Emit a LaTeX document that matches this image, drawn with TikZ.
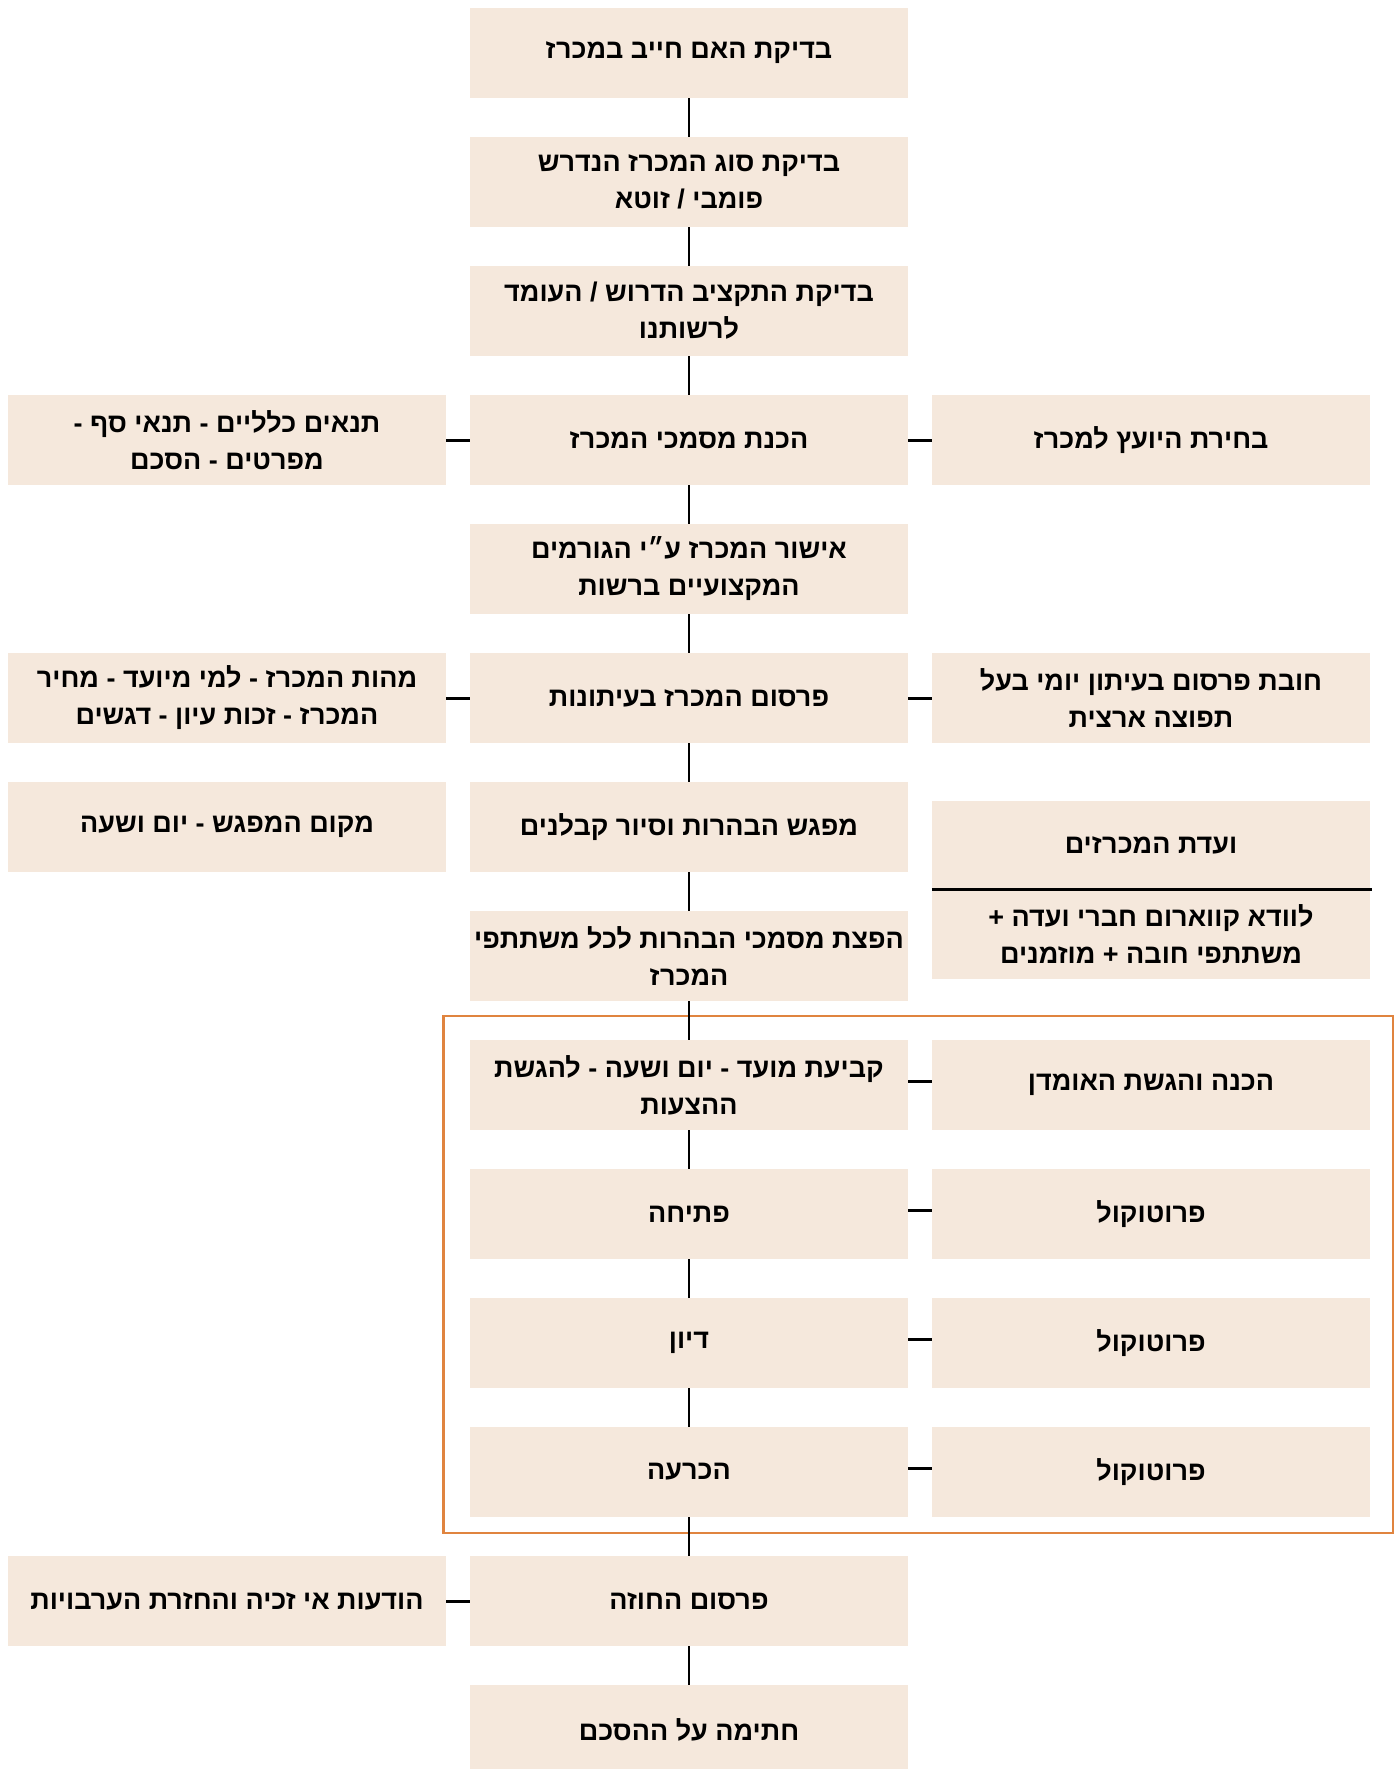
\documentclass[tikz,border=0pt]{standalone}
\usepackage{fontspec}
\newfontfamily\hebfont[Script=Hebrew]{Liberation Sans}
\TeXXeTstate=1
\newcommand{\hebline}[1]{\beginR #1\endR}
\definecolor{boxfill}{HTML}{F5E8DC}
\definecolor{frameorange}{HTML}{E0843F}

\begin{document}
\begin{tikzpicture}[x=1pt,y=-1pt,
  stepbox/.style={fill=boxfill, minimum width=438pt, minimum height=90pt, inner sep=0pt, align=center,
    font=\hebfont\bfseries\fontsize{27}{37}\selectfont},
  link/.style={draw, line width=2pt},
  tick/.style={draw, line width=3pt}]
\useasboundingbox (0,0) rectangle (1395,1769);

% main column
\node[stepbox] (c0) at (689,53) {\hebline{בדיקת האם חייב במכרז}};
\node[stepbox] (c1) at (689,182) {\hebline{בדיקת סוג המכרז הנדרש}\\\hebline{פומבי / זוטא}};
\node[stepbox] (c2) at (689,311) {\hebline{בדיקת התקציב הדרוש / העומד}\\\hebline{לרשותנו}};
\node[stepbox] (c3) at (689,440) {\hebline{הכנת מסמכי המכרז}};
\node[stepbox] (c4) at (689,569) {\hebline{אישור המכרז ע״י הגורמים}\\\hebline{המקצועיים ברשות}};
\node[stepbox] (c5) at (689,698) {\hebline{פרסום המכרז בעיתונות}};
\node[stepbox] (c6) at (689,827) {\hebline{מפגש הבהרות וסיור קבלנים}};
\node[stepbox] (c7) at (689,956) {\hebline{הפצת מסמכי הבהרות לכל משתתפי}\\\hebline{המכרז}};
\node[stepbox] (c8) at (689,1085) {\hebline{קביעת מועד - יום ושעה - להגשת}\\\hebline{ההצעות}};
\node[stepbox] (c9) at (689,1214) {\hebline{פתיחה}};
\node[stepbox] (c10) at (689,1343) {\hebline{דיון}};
\node[stepbox] (c11) at (689,1472) {\hebline{הכרעה}};
\node[stepbox] (c12) at (689,1601) {\hebline{פרסום החוזה}};
\node[stepbox] (c13) at (689,1730) {\hebline{חתימה על ההסכם}};

% left column
\node[stepbox] (l3) at (227,440) {\hebline{תנאים כלליים - תנאי סף -}\\\hebline{מפרטים - הסכם}};
\node[stepbox] (l5) at (227,698) {\hebline{מהות המכרז - למי מיועד - מחיר}\\\hebline{המכרז - זכות עיון - דגשים}};
\node[stepbox] (l6) at (227,827) {\hebline{מקום המפגש - יום ושעה}};
\node[stepbox] (l12) at (227,1601) {\hebline{הודעות אי זכיה והחזרת הערבויות}};

% right column
\node[stepbox] (r3) at (1151,440) {\hebline{בחירת היועץ למכרז}};
\node[stepbox] (r5) at (1151,698) {\hebline{חובת פרסום בעיתון יומי בעל}\\\hebline{תפוצה ארצית}};
\node[stepbox, minimum height=88pt] (r6a) at (1151,845) {\hebline{ועדת המכרזים}};
\node[stepbox] (r6b) at (1151,934) {\hebline{לוודא קווארום חברי ועדה +}\\\hebline{משתתפי חובה + מוזמנים}};
\node[stepbox] (r8) at (1151,1085) {\hebline{הכנה והגשת האומדן}};
\node[stepbox] (r9) at (1151,1214) {\hebline{פרוטוקול}};
\node[stepbox] (r10) at (1151,1343) {\hebline{פרוטוקול}};
\node[stepbox] (r11) at (1151,1472) {\hebline{פרוטוקול}};

\draw[line width=3pt] (r6a.south west) -- ([xshift=2pt]r6a.south east);

% committee frame
\draw[frameorange, line width=2.5pt] (443.5,1016) rectangle (1393,1533);

\path[link] (c0) -- (c1);
\path[link] (c1) -- (c2);
\path[link] (c2) -- (c3);
\path[link] (c3) -- (c4);
\path[link] (c4) -- (c5);
\path[link] (c5) -- (c6);
\path[link] (c6) -- (c7);
\path[link] (c7) -- (c8);
\path[link] (c8) -- (c9);
\path[link] (c9) -- (c10);
\path[link] (c10) -- (c11);
\path[link] (c11) -- (c12);
\path[link] (c12) -- (c13);

\path[tick] (l3) -- (c3);
\path[tick] (c3) -- (r3);
\path[tick] (l5) -- (c5);
\path[tick] (c5) -- (r5);
\path[tick] ([yshift=4pt]c8.east) -- ([yshift=4pt]r8.west);
\path[tick] ([yshift=4pt]c9.east) -- ([yshift=4pt]r9.west);
\path[tick] ([yshift=4pt]c10.east) -- ([yshift=4pt]r10.west);
\path[tick] ([yshift=4pt]c11.east) -- ([yshift=4pt]r11.west);
\path[tick] (l12) -- (c12);
\end{tikzpicture}
\end{document}
